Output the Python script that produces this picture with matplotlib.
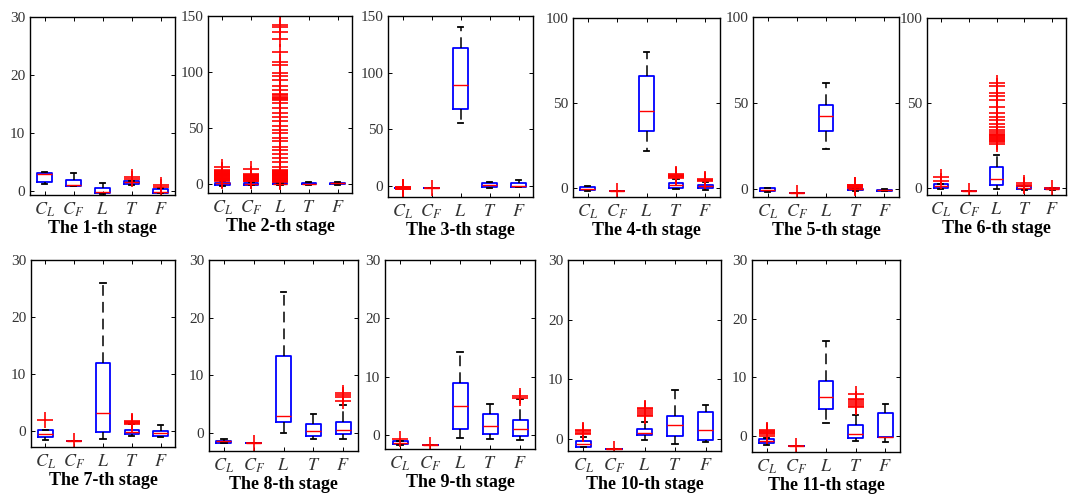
"""
Box plots of the five quantities (C_L, C_F, L, T, F) for each of the 11 stages.
"""

import matplotlib
matplotlib.use('Agg')
import matplotlib.pyplot as plt

# ---- data -----------------------------------------------------------------
categories = ['$C_L$', '$C_F$', '$L$', '$T$', '$F$']
stage_titles = ['The %d-th stage' % (i + 1) for i in range(11)]

whisker_low = [
    [1.1, 0.8, -0.5, 1.05, -0.4],
    [-2.0, -1.5, -0.8, -1.5, -1.2],
    [-2.0, -2.0, 55.0, -2.0, -1.2],
    [-1.8, -2.0, 21.6, -0.5, -1.0],
    [-1.5, -2.0, 23.6, -1.0, -1.2],
    [-0.5, -1.5, -0.6, -1.0, -0.8],
    [-1.65, -1.76, -1.5, -1.0, -1.1],
    [-1.8, -1.7, 0.1, -1.04, -1.0],
    [-1.7, -1.7, -0.46, -0.7, -0.86],
    [-1.5, -1.8, -0.3, -0.9, -0.56],
    [-1.5, -1.7, 2.3, -0.85, -1.0],
]
q1 = [
    [1.5, 0.8, -0.45, 1.2, -0.35],
    [-0.8, -0.8, -0.5, -0.6, -0.4],
    [-2.0, -2.0, 68.0, -1.5, -1.0],
    [-1.4, -2.0, 33.7, 0.0, 0.0],
    [-1.2, -2.0, 33.7, -0.6, -1.0],
    [0.0, -1.5, 2.0, -0.6, -0.6],
    [-1.06, -1.76, -0.3, -0.7, -0.9],
    [-1.7, -1.7, 1.85, -0.58, -0.17],
    [-1.6, -1.7, 1.0, 0.1, -0.1],
    [-1.4, -1.8, 0.56, 0.4, -0.17],
    [-1.14, -1.7, 4.55, -0.3, -0.23],
]
median = [
    [2.8, 1.0, -0.17, 1.43, -0.17],
    [0.3, 0.0, 0.0, 0.0, 0.2],
    [-2.0, -2.0, 89.0, 0.3, 0.0],
    [-0.6, -2.0, 45.0, 1.5, 1.0],
    [-0.5, -2.0, 42.4, 0.0, -0.6],
    [1.0, -1.5, 5.3, 0.0, -0.2],
    [-0.6, -1.76, 3.1, -0.3, -0.45],
    [-1.4, -1.7, 2.9, 0.4, 0.5],
    [-1.3, -1.7, 5.0, 1.6, 1.1],
    [-0.95, -1.8, 0.95, 2.35, 1.4],
    [-0.85, -1.7, 6.6, 0.3, -0.1],
]
q3 = [
    [3.1, 1.9, 0.4, 1.66, 0.23],
    [1.0, 0.8, 0.5, 0.6, 0.8],
    [-2.0, -2.0, 122.0, 2.0, 2.4],
    [0.6, -2.0, 65.7, 2.9, 2.0],
    [0.8, -2.0, 49.0, 0.4, -0.2],
    [2.4, -1.5, 12.7, 1.0, 0.4],
    [0.1, -1.76, 11.9, 0.1, 0.0],
    [-1.3, -1.7, 13.3, 1.55, 1.9],
    [-1.1, -1.7, 9.0, 3.6, 2.6],
    [-0.45, -1.8, 1.57, 3.8, 4.5],
    [-0.57, -1.7, 9.43, 1.9, 4.0],
]
whisker_high = [
    [3.25, 3.1, 1.37, 1.7, 0.4],
    [2.0, 1.5, 1.0, 1.5, 1.6],
    [-2.0, -2.0, 140.0, 3.0, 4.7],
    [1.0, -2.0, 79.8, 5.0, 3.5],
    [1.0, -2.0, 61.9, 0.8, 0.0],
    [2.4, -1.5, 19.6, 1.3, 0.4],
    [0.1, -1.76, 25.9, 1.1, 1.0],
    [-1.1, -1.7, 24.4, 3.3, 4.8],
    [-1.1, -1.7, 14.2, 5.4, 6.1],
    [0.3, -1.8, 2.8, 8.2, 5.7],
    [-0.3, -1.7, 16.25, 3.6, 5.4],
]
outliers = [
    [[], [], [], [2.0, 2.4], [0.6, 0.9]],
    [[2.5, 3, 3.5, 4, 4.5, 5, 5.5, 6, 6.5, 7, 7.5, 8, 8.5, 9, 9.5, 10,
      10.5, 11, 11.5, 12, 15],
     [2, 2.5, 3, 3.5, 4, 4.5, 5, 5.5, 6, 6.5, 7, 7.5, 8, 8.5, 13],
     [1.5, 2, 2.5, 3, 3.5, 4, 4.5, 5, 5.5, 6, 6.5, 7, 7.5, 8, 8.5, 9,
      9.5, 10, 10.5, 11, 11.5, 12, 15, 19, 23, 27, 30, 33, 38, 41, 45,
      48, 52, 56, 60, 63, 68, 72, 75, 76, 77, 78, 79, 80, 84, 87, 93,
      96, 99, 106, 109, 118, 129, 136, 140, 142],
     [], []],
    [[-2.8, -2.5, -2.2, -1.8, -1.5, -1.2], [-2.0], [], [], []],
    [[], [-2.0], [], [6.0, 6.4, 6.8, 7.2, 7.6, 8.0], [4.0, 4.5, 5.0]],
    [[], [-2.0], [], [1.0, 1.3, 1.6, 2.0, 2.3, 2.6], []],
    [[4.0, 6.5], [-1.5],
     [26, 27, 28, 28.5, 29, 29.5, 30, 30.5, 31, 31.5, 32, 33, 34, 36,
      38, 40, 42, 44, 47.5, 52, 54, 56, 60, 62],
     [1.5, 2.0, 2.8], [0.3]],
    [[1.8], [-1.76], [], [1.2, 1.35, 1.5, 1.6], []],
    [[], [-1.7], [], [], [5.5, 6.2, 6.6, 7.0]],
    [[-0.7], [-1.7], [], [], [6.4, 6.7]],
    [[0.8, 1.0, 1.2, 1.4], [-1.8], [3.7, 4.0, 4.3, 4.6, 4.9, 5.1], [], []],
    [[0.1, 0.3, 0.5, 0.7, 0.9, 1.1], [-1.7], [], [4.9, 5.2, 5.5, 5.8,
                                              6.1, 6.3, 7.2], []],
]
y_limits = [(-0.75, 30), (-8.3, 150), (-10, 150), (-5.3, 100), (-4.4, 100),
            (-4, 100), (-2.9, 30), (-3.1, 30), (-2.4, 30), (-2.1, 30),
            (-2.7, 30)]
y_ticks = [[0, 10, 20, 30], [0, 50, 100, 150], [0, 50, 100, 150],
           [0, 50, 100], [0, 50, 100], [0, 50, 100],
           [0, 10, 20, 30], [0, 10, 20, 30], [0, 10, 20, 30],
           [0, 10, 20, 30], [0, 10, 20, 30]]

# axes rectangles in pixels: left, top, right, bottom
W, H = 1068, 494
panel_px = [
    (30, 17, 175, 195), (208, 16, 352, 193), (388, 16, 533, 197),
    (573, 18, 720, 197), (753, 17, 899, 197), (927, 18, 1066, 195),
    (31, 260, 175, 447), (209, 260, 358, 451), (385, 260, 535, 449),
    (568, 260, 721, 451), (752, 260, 900, 452),
]

plt.rcParams['font.family'] = ['Liberation Serif', 'DejaVu Serif']
plt.rcParams['mathtext.fontset'] = 'stix'

fig = plt.figure(figsize=(W / 100, H / 100), dpi=100)

for k in range(11):
    l, t, r, b = panel_px[k]
    ax = fig.add_axes([l / W, 1 - b / H, (r - l) / W, (b - t) / H])

    stats = []
    for j in range(5):
        stats.append(dict(whislo=whisker_low[k][j], q1=q1[k][j],
                          med=median[k][j], q3=q3[k][j],
                          whishi=whisker_high[k][j],
                          fliers=outliers[k][j]))

    ax.bxp(stats, positions=range(1, 6), widths=0.5, capwidths=0.18,
           boxprops=dict(color='#0000ff', linewidth=1.3),
           medianprops=dict(color='#ff0000', linewidth=1.0),
           whiskerprops=dict(color='black', linewidth=1.1,
                             linestyle=(0, (7, 4))),
           capprops=dict(color='black', linewidth=1.3),
           flierprops=dict(marker='+', markersize=11, markeredgewidth=1.2,
                           markeredgecolor='#ff0000', linestyle='none'))

    ax.set_xlim(0.5, 5.5)
    ax.set_ylim(*y_limits[k])
    ax.set_yticks(y_ticks[k])
    ax.set_xticks(range(1, 6))
    ax.set_xticklabels(categories, fontsize=13, color='#333333')
    ax.tick_params(axis='y', labelsize=11, labelcolor='#333333')
    ax.tick_params(axis='x', pad=4)
    ax.tick_params(direction='in', top=True, right=True, length=3,
                   width=0.7)
    for s in ax.spines.values():
        s.set_linewidth(1.0)
    ax.set_xlabel(stage_titles[k], fontsize=13, fontweight='bold',
                  labelpad=1)

fig.savefig('out.png', dpi=100)
